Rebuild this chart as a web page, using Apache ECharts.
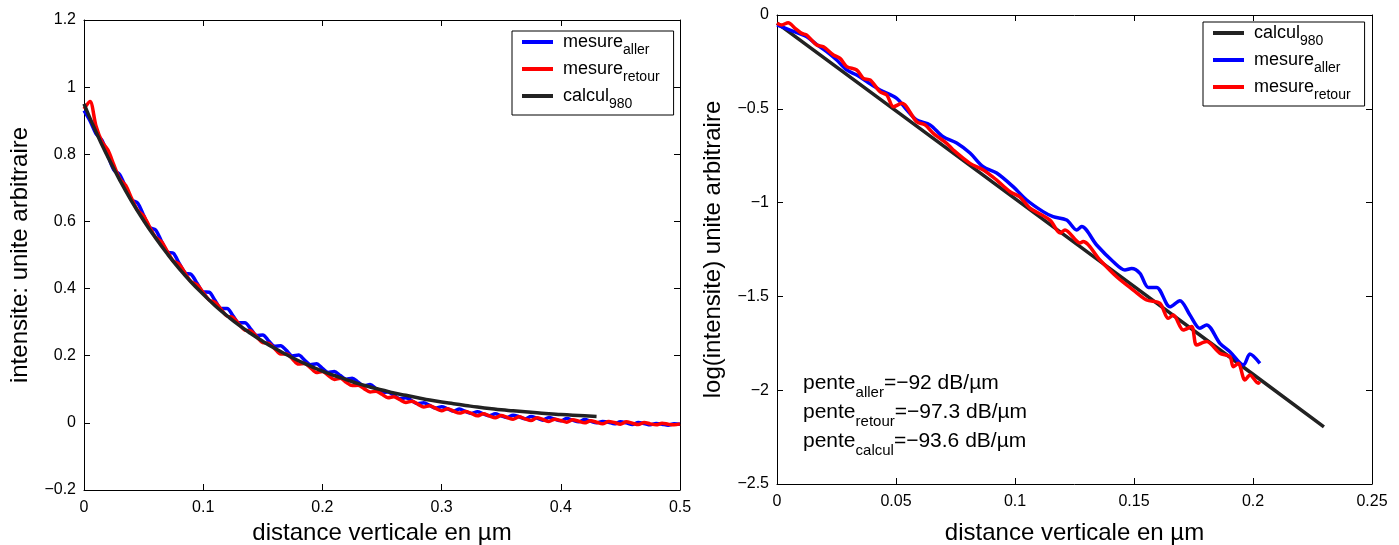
<!DOCTYPE html>
<html>
<head>
<meta charset="utf-8">
<script src="https://cdn.jsdelivr.net/npm/echarts@6/dist/echarts.min.js"></script>
<style>html,body{margin:0;padding:0;background:#fff}#c{width:1399px;height:545px}</style>
</head>
<body>
<div id="c"></div>
<script>
// ---------- Left panel data ----------
const leftX = [0,0.005,0.01,0.015,0.02,0.025,0.03,0.035,0.04,0.045,0.05,0.055,0.06,0.065,0.07,0.075,0.08,0.085,0.09,0.095,
0.1,0.105,0.11,0.115,0.12,0.125,0.13,0.135,0.14,0.145,0.15,0.155,0.16,0.165,0.17,0.175,0.18,0.185,0.19,0.195,
0.2,0.205,0.21,0.215,0.22,0.225,0.23,0.235,0.24,0.245,0.25,0.255,0.26,0.265,0.27,0.275,0.28,0.285,0.29,0.295,
0.3,0.305,0.31,0.315,0.32,0.325,0.33,0.335,0.34,0.345,0.35,0.355,0.36,0.365,0.37,0.375,0.38,0.385,0.39,0.395,
0.4,0.405,0.41,0.415,0.42,0.425,0.43,0.435,0.44,0.445,0.45,0.455,0.46,0.465,0.47,0.475,0.48,0.485,0.49,0.495,0.5];
const leftAller = [0.930,0.900,0.862,0.842,0.797,0.754,0.739,0.701,0.664,0.655,0.618,0.582,0.575,0.541,0.509,0.505,0.474,0.446,0.442,0.415,
0.390,0.389,0.364,0.341,0.341,0.319,0.298,0.298,0.279,0.260,0.262,0.244,0.228,0.230,0.215,0.199,0.202,0.187,0.173,0.176,
0.162,0.150,0.153,0.141,0.130,0.133,0.121,0.110,0.114,0.102,0.091,0.092,0.082,0.072,0.075,0.066,0.057,0.060,0.052,0.044,
0.048,0.042,0.035,0.041,0.034,0.028,0.033,0.027,0.021,0.027,0.021,0.016,0.023,0.018,0.012,0.019,0.014,0.008,0.016,0.011,
0.006,0.013,0.008,0.003,0.010,0.005,0.000,0.004,0.002,-0.003,0.003,0.000,-0.005,0.001,-0.002,-0.006,-0.002,-0.004,-0.007,-0.003,-0.004];
const leftRetour = [0.935,0.957,0.885,0.838,0.813,0.769,0.727,0.707,0.668,0.633,0.617,0.584,0.553,0.540,0.510,0.482,0.472,0.445,0.420,0.411,
0.388,0.366,0.359,0.338,0.318,0.314,0.294,0.276,0.274,0.256,0.239,0.237,0.221,0.205,0.205,0.190,0.175,0.177,0.164,0.150,
0.153,0.141,0.129,0.133,0.121,0.111,0.112,0.102,0.092,0.094,0.085,0.075,0.078,0.069,0.061,0.064,0.056,0.047,0.051,0.043,
0.036,0.042,0.035,0.029,0.034,0.028,0.021,0.027,0.021,0.015,0.022,0.016,0.011,0.018,0.012,0.007,0.015,0.010,0.004,0.011,
0.007,0.002,0.009,0.005,0.000,0.006,0.002,-0.003,0.004,0.001,-0.004,0.003,-0.001,-0.005,0.001,-0.003,-0.006,-0.001,-0.004,-0.006,-0.003];
const calcX = [0,0.01,0.02,0.03,0.04,0.05,0.06,0.07,0.08,0.09,0.1,0.11,0.12,0.13,0.14,0.15,0.16,0.17,0.18,0.19,0.2,0.21,
0.22,0.23,0.24,0.25,0.26,0.27,0.28,0.29,0.3,0.31,0.32,0.33,0.34,0.35,0.36,0.37,0.38,0.39,0.4,0.41,0.42,0.43];
const calcY = [0.950,0.867,0.792,0.723,0.660,0.603,0.551,0.503,0.459,0.419,0.383,0.349,0.319,0.291,0.266,0.243,0.222,0.203,0.185,0.169,0.154,0.141,
0.129,0.117,0.107,0.098,0.089,0.082,0.075,0.068,0.062,0.057,0.052,0.047,0.043,0.039,0.036,0.033,0.030,0.027,0.025,0.023,0.021,0.019];

// ---------- Right panel data ----------
const rCalcX = [0,0.05,0.1,0.15,0.2,0.2298];
const rCalcY = [-0.043,-0.511,-0.979,-1.447,-1.915,-2.196];
const rAllerX = [0,0.0055,0.0125,0.0167,0.0209,0.0251,0.0293,0.0335,0.0377,0.0433,0.0503,0.0545,0.0587,0.0643,0.0698,0.0755,0.0811,0.0866,0.0923,0.0992,
0.1049,0.1118,0.116,0.1217,0.1259,0.128,0.1343,0.1413,0.1462,0.149,0.1525,0.156,0.1595,0.1651,0.1693,0.1735,0.1777,0.1805,0.1861,0.1903,0.196,0.1987,0.2029];
const rAllerY = [-0.053,-0.080,-0.116,-0.158,-0.195,-0.240,-0.293,-0.320,-0.355,-0.400,-0.444,-0.506,-0.560,-0.586,-0.649,-0.682,-0.736,-0.809,-0.842,-0.915,
-0.986,-1.048,-1.075,-1.093,-1.146,-1.128,-1.226,-1.315,-1.359,-1.351,-1.377,-1.452,-1.452,-1.555,-1.523,-1.599,-1.670,-1.652,-1.750,-1.795,-1.866,-1.807,-1.857];
const rRetourX = [0,0.002,0.0047,0.0076,0.0104,0.0125,0.0167,0.0195,0.0237,0.0265,0.0293,0.0335,0.0363,0.0391,0.0433,0.0461,0.0489,0.0524,0.0587,0.0622,
0.0657,0.0713,0.0741,0.0811,0.0867,0.0923,0.0979,0.102,0.1063,0.1147,0.119,0.121,0.1273,0.1286,0.1357,0.1427,0.1497,0.1553,0.1609,0.1644,
0.1665,0.1707,0.1742,0.1763,0.1805,0.1861,0.1903,0.1917,0.1938,0.1966,0.1987,0.2022,0.2029];
const rRetourY = [-0.044,-0.053,-0.041,-0.071,-0.098,-0.107,-0.160,-0.169,-0.213,-0.231,-0.275,-0.293,-0.338,-0.346,-0.409,-0.426,-0.489,-0.471,-0.569,-0.586,
-0.631,-0.684,-0.720,-0.791,-0.826,-0.880,-0.942,-0.969,-1.029,-1.093,-1.162,-1.146,-1.215,-1.208,-1.306,-1.395,-1.466,-1.519,-1.537,-1.617,
-1.599,-1.679,-1.661,-1.759,-1.741,-1.803,-1.821,-1.875,-1.857,-1.946,-1.919,-1.963,-1.955];

const leftYTicks = {min:-0.2, max:1.2, interval:0.2};
const rightYTicks = {min:-2.5, max:0, interval:0.5};
const annotations = [
  ['pente','aller','=\u221292 dB/\u00b5m'],
  ['pente','retour','=\u221297.3 dB/\u00b5m'],
  ['pente','calcul','=\u221293.6 dB/\u00b5m']
];

const FONT = 'Liberation Sans, Arial, Helvetica, sans-serif';
const zip = (xs, ys) => xs.map((x, i) => [x, ys[i]]);
const minus = v => String(v).replace('-', '\u2212');
const BLUE = '#0000ff', RED = '#ff0000', BLACK = '#222222';
const LW = 3.5;

const labels = {
  'mesure_aller': '{b|mesure}{s|aller}',
  'mesure_retour': '{b|mesure}{s|retour}',
  'calcul_980': '{b|calcul}{s|980}'
};
const legendRich = {
  b: {fontSize: 18, fontFamily: FONT, color: '#000', padding: [0, 0, 0, 5]},
  s: {fontSize: 14, fontFamily: FONT, color: '#000', padding: [16, 0, 0, 0]}
};
const noteRich = {
  b: {fontSize: 21, fontFamily: FONT, color: '#000'},
  s: {fontSize: 15, fontFamily: FONT, color: '#000', padding: [18, 0, 0, 0]}
};

function axisPair(gridIndex, pos, min, max, interval, showLabel, name, nameGap, margin) {
  return {
    type: 'value', gridIndex, position: pos, min, max, interval,
    axisLine: {show: true, onZero: false, lineStyle: {color: '#000', width: 1}},
    axisTick: {show: true, inside: true, length: 6, lineStyle: {color: '#000'}},
    splitLine: {show: false},
    axisLabel: {show: showLabel, color: '#000', fontSize: 16, fontFamily: FONT, margin: margin || 8, formatter: minus},
    name: name || '', nameLocation: 'middle', nameGap: nameGap || 0,
    nameTextStyle: {color: '#000', fontSize: 24, fontFamily: FONT}
  };
}

function legendAt(left, top, data) {
  return {
    left, top, orient: 'vertical', icon: 'rect', itemWidth: 31, itemHeight: 4, itemGap: 3,
    padding: [2, 14, 4, 10], borderColor: '#000', borderWidth: 1, backgroundColor: '#fff',
    data, formatter: n => labels[n], textStyle: {rich: legendRich}, selectedMode: false
  };
}

const chart = echarts.init(document.getElementById('c'));
chart.setOption({
  animation: false,
  backgroundColor: '#fff',
  grid: [
    {left: 84, top: 20, right: 719, bottom: 55, outerBoundsMode: 'none', containLabel: false},
    {left: 777, top: 15, right: 27, bottom: 61, outerBoundsMode: 'none', containLabel: false}
  ],
  xAxis: [
    axisPair(0, 'bottom', 0, 0.5, 0.1, true, 'distance verticale en \u00b5m', 23, 10),
    axisPair(0, 'top', 0, 0.5, 0.1, false),
    axisPair(1, 'bottom', 0, 0.25, 0.05, true, 'distance verticale en \u00b5m', 37, 10),
    axisPair(1, 'top', 0, 0.25, 0.05, false)
  ],
  yAxis: [
    axisPair(0, 'left', leftYTicks.min, leftYTicks.max, leftYTicks.interval, true, 'intensite: unite arbitraire', 52),
    axisPair(0, 'right', leftYTicks.min, leftYTicks.max, leftYTicks.interval, false),
    axisPair(1, 'left', rightYTicks.min, rightYTicks.max, rightYTicks.interval, true, 'log(intensite) unite arbitraire', 52),
    axisPair(1, 'right', rightYTicks.min, rightYTicks.max, rightYTicks.interval, false)
  ],
  legend: [
    legendAt(512, 31, ['mesure_aller', 'mesure_retour', 'calcul_980']),
    legendAt(1203, 22, ['calcul_980', 'mesure_aller', 'mesure_retour'])
  ],
  graphic: annotations.map((a, i) => ({
    type: 'text', left: 803, top: 373 + i * 29,
    style: {text: '{b|' + a[0] + '}{s|' + a[1] + '}{b|' + a[2] + '}', rich: noteRich}
  })),
  series: [
    {name: 'mesure_aller', type: 'line', xAxisIndex: 0, yAxisIndex: 0, data: zip(leftX, leftAller),
     showSymbol: false, symbol: 'none', smooth: 0.3, lineStyle: {color: BLUE, width: LW}, itemStyle: {color: BLUE}},
    {name: 'mesure_retour', type: 'line', xAxisIndex: 0, yAxisIndex: 0, data: zip(leftX, leftRetour),
     showSymbol: false, symbol: 'none', smooth: 0.3, lineStyle: {color: RED, width: LW}, itemStyle: {color: RED}},
    {name: 'calcul_980', type: 'line', xAxisIndex: 0, yAxisIndex: 0, data: zip(calcX, calcY),
     showSymbol: false, symbol: 'none', smooth: true, lineStyle: {color: BLACK, width: LW}, itemStyle: {color: BLACK}},
    {name: 'calcul_980', type: 'line', xAxisIndex: 2, yAxisIndex: 2, data: zip(rCalcX, rCalcY),
     showSymbol: false, symbol: 'none', lineStyle: {color: BLACK, width: LW}, itemStyle: {color: BLACK}},
    {name: 'mesure_aller', type: 'line', xAxisIndex: 2, yAxisIndex: 2, data: zip(rAllerX, rAllerY),
     showSymbol: false, symbol: 'none', smooth: 0.3, lineStyle: {color: BLUE, width: LW}, itemStyle: {color: BLUE}},
    {name: 'mesure_retour', type: 'line', xAxisIndex: 2, yAxisIndex: 2, data: zip(rRetourX, rRetourY),
     showSymbol: false, symbol: 'none', smooth: 0.3, lineStyle: {color: RED, width: LW}, itemStyle: {color: RED}}
  ]
});
</script>
</body>
</html>
